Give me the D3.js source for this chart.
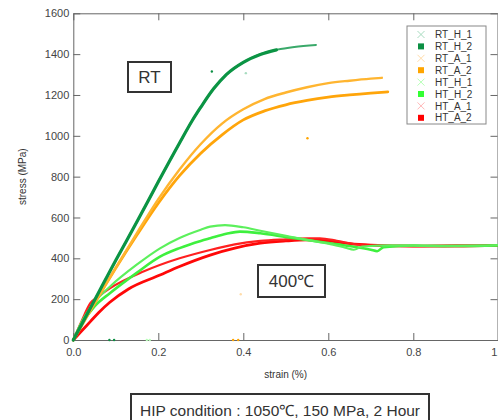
<!DOCTYPE html>
<html>
<head>
<meta charset="utf-8">
<script src="https://cdn.jsdelivr.net/npm/d3@7"></script>
<style>
  body { margin: 0; background: #fff; }
  text { font-family: "Liberation Sans", Arial, sans-serif; }
</style>
</head>
<body>
<svg id="chart" width="498" height="420"></svg>
<script>
// series names in legend order
var seriesNames = ["RT_H_1", "RT_H_2", "RT_A_1", "RT_A_2", "HT_H_1", "HT_H_2", "HT_A_1", "HT_A_2"];

// strain (%) / stress (MPa)
var strainRT_H_1 = [0, 0.05, 0.1, 0.15, 0.2, 0.25, 0.28, 0.3, 0.33, 0.36, 0.4, 0.44, 0.48, 0.52, 0.571];
var stressRT_H_1 = [0, 195, 390, 580, 775, 965, 1075, 1140, 1230, 1300, 1360, 1400, 1422, 1435, 1445];
var strainRT_H_2 = [0, 0.05, 0.1, 0.15, 0.2, 0.25, 0.28, 0.3, 0.33, 0.36, 0.4, 0.44, 0.478];
var stressRT_H_2 = [0, 195, 390, 580, 775, 965, 1075, 1140, 1230, 1300, 1360, 1398, 1421];
var strainRT_A_1 = [0, 0.05, 0.1, 0.15, 0.2, 0.25, 0.3, 0.35, 0.4, 0.45, 0.5, 0.55, 0.6, 0.65, 0.7, 0.726];
var stressRT_A_1 = [0, 180, 355, 525, 690, 835, 960, 1060, 1130, 1180, 1212, 1238, 1258, 1270, 1280, 1284];
var strainRT_A_2 = [0, 0.05, 0.1, 0.15, 0.2, 0.25, 0.3, 0.35, 0.4, 0.45, 0.5, 0.55, 0.6, 0.65, 0.7, 0.74];
var stressRT_A_2 = [0, 180, 352, 515, 670, 805, 915, 1005, 1078, 1122, 1152, 1173, 1189, 1200, 1209, 1215];
var strainHT_H_1 = [0, 0.02, 0.05, 0.086, 0.15, 0.204, 0.25, 0.3, 0.322, 0.357, 0.4, 0.44, 0.5, 0.55, 0.6, 0.64, 0.66, 0.68, 0.75, 0.85, 0.95, 1.0];
var stressHT_H_1 = [0, 90, 185, 261, 370, 449, 500, 540, 555, 563, 552, 535, 510, 490, 472, 452, 442, 458, 463, 460, 462, 465];
var strainHT_H_2 = [0, 0.02, 0.05, 0.086, 0.15, 0.204, 0.25, 0.3, 0.322, 0.36, 0.392, 0.44, 0.5, 0.55, 0.6, 0.65, 0.7, 0.715, 0.73, 0.8, 0.9, 1.0];
var stressHT_H_2 = [0, 80, 165, 229, 330, 408, 450, 485, 498, 520, 531, 523, 505, 490, 475, 460, 442, 435, 455, 463, 460, 463];
var strainHT_A_1 = [0, 0.02, 0.04, 0.06, 0.086, 0.165, 0.25, 0.322, 0.38, 0.44, 0.5, 0.55, 0.58, 0.62, 0.66, 0.7, 0.8, 0.9, 1.0];
var stressHT_A_1 = [0, 95, 180, 215, 253, 335, 400, 441, 468, 485, 493, 498, 498, 486, 470, 462, 460, 458, 463];
var strainHT_A_2 = [0, 0.02, 0.04, 0.06, 0.086, 0.13, 0.204, 0.25, 0.322, 0.38, 0.44, 0.5, 0.55, 0.6, 0.65, 0.7, 0.8, 0.9, 1.0];
var stressHT_A_2 = [0, 45, 90, 135, 185, 250, 318, 360, 416, 450, 474, 485, 490, 485, 472, 465, 460, 462, 463];

// stray single points
var strayStrain = [0.326, 0.406, 0.551, 0.394, 0.085, 0.096, 0.173, 0.18, 0.376, 0.388];
var strayStress = [1315, 1307, 988, 224, 0, 0, 0, 0, 0, 0];
var straySeries = ["RT_H_2", "RT_H_1", "RT_A_2", "RT_A_1", "RT_H_2", "RT_H_2", "HT_H_1", "HT_H_1", "RT_A_2", "RT_A_2"];

var xTicks = [0, 0.2, 0.4, 0.6, 0.8, 1.0];
var yTicks = [0, 200, 400, 600, 800, 1000, 1200, 1400, 1600];

var strains = {RT_H_1: strainRT_H_1, RT_H_2: strainRT_H_2, RT_A_1: strainRT_A_1, RT_A_2: strainRT_A_2,
  HT_H_1: strainHT_H_1, HT_H_2: strainHT_H_2, HT_A_1: strainHT_A_1, HT_A_2: strainHT_A_2};
var stresses = {RT_H_1: stressRT_H_1, RT_H_2: stressRT_H_2, RT_A_1: stressRT_A_1, RT_A_2: stressRT_A_2,
  HT_H_1: stressHT_H_1, HT_H_2: stressHT_H_2, HT_A_1: stressHT_A_1, HT_A_2: stressHT_A_2};

// styles
var lineColor = {RT_H_1: "#3aa96a", RT_H_2: "#0b9444", RT_A_1: "#ffb530", RT_A_2: "#ffa50a",
  HT_H_1: "#5cf05c", HT_H_2: "#3ef03e", HT_A_1: "#ff2020", HT_A_2: "#ff0808"};
var lineWidth = {RT_H_1: 2, RT_H_2: 3.2, RT_A_1: 2.4, RT_A_2: 2.8, HT_H_1: 2.2, HT_H_2: 2.6, HT_A_1: 2.2, HT_A_2: 2.8};
var legendColor = {RT_H_1: "#a8dcc0", RT_H_2: "#0b8f43", RT_A_1: "#ffdcaa", RT_A_2: "#ffa500",
  HT_H_1: "#b8ffb8", HT_H_2: "#33ff33", HT_A_1: "#ffb8b8", HT_A_2: "#ff0000"};

var svg = d3.select("#chart");
var x = d3.scaleLinear().domain([0, 1]).range([73.3, 498.3]);
var y = d3.scaleLinear().domain([0, 1600]).range([340, 13.3]);

// frame + axes, ticks pointing inward
var axisColor = "#666";
function styleAxis(g) {
  g.select(".domain").attr("stroke", axisColor);
  g.selectAll(".tick line").attr("stroke", axisColor);
  g.selectAll(".tick text").attr("fill", "#444").style("font-size", "11px")
    .style("font-family", "'Liberation Sans', Arial, sans-serif");
}
svg.append("g").attr("transform", "translate(0,340)")
  .call(d3.axisBottom(x).tickValues(xTicks).tickFormat(d3.format(".1f")).tickSizeInner(-7).tickSizeOuter(0).tickPadding(8))
  .call(styleAxis);
svg.append("g").attr("transform", "translate(73.3,0)")
  .call(d3.axisLeft(y).tickValues(yTicks).tickFormat(d3.format("d")).tickSizeInner(-7).tickSizeOuter(0).tickPadding(4))
  .call(styleAxis);
svg.append("g").attr("transform", "translate(0,13.3)")
  .call(d3.axisTop(x).tickValues(xTicks).tickFormat("").tickSizeInner(-7).tickSizeOuter(0))
  .call(styleAxis);
svg.append("g").attr("transform", "translate(497.5,0)")
  .call(d3.axisRight(y).tickValues(yTicks).tickFormat("").tickSizeInner(-7).tickSizeOuter(0))
  .call(styleAxis);

// curves
var line = d3.line().x(function(d){ return x(d[0]); }).y(function(d){ return y(d[1]); }).curve(d3.curveMonotoneX);
var drawOrder = ["HT_A_2", "HT_A_1", "HT_H_2", "HT_H_1", "RT_A_2", "RT_A_1", "RT_H_1", "RT_H_2"];
drawOrder.forEach(function(name){
  var pts = strains[name].map(function(s, i){ return [s, stresses[name][i]]; });
  svg.append("path").datum(pts)
    .attr("d", line)
    .attr("fill", "none")
    .attr("stroke", lineColor[name])
    .attr("stroke-width", lineWidth[name])
    .attr("stroke-linecap", "round");
});

// stray points
strayStrain.forEach(function(s, i){
  svg.append("circle")
    .attr("cx", x(s)).attr("cy", y(strayStress[i]))
    .attr("r", 1.2)
    .attr("fill", legendColor[straySeries[i]]);
});

// axis titles
svg.append("text").attr("x", 285.7).attr("y", 378).attr("text-anchor", "middle")
  .style("font-size", "10px").attr("fill", "#333").text("strain (%)");
svg.append("text").attr("transform", "translate(26,176.7) rotate(-90)").attr("text-anchor", "middle")
  .style("font-size", "10px").attr("fill", "#333").text("stress (MPa)");

// legend
var lg = svg.append("g");
lg.append("rect").attr("x", 407).attr("y", 26).attr("width", 79).attr("height", 98)
  .attr("fill", "#fff").attr("stroke", "#888").attr("stroke-width", 1);
seriesNames.forEach(function(name, i){
  var cy = 34.5 + i * 11.9;
  if (name.slice(-1) === "1") {
    lg.append("path").attr("d", "M" + (421 - 3.5) + "," + (cy - 3.5) + "l7,7M" + (421 - 3.5) + "," + (cy + 3.5) + "l7,-7")
      .attr("stroke", legendColor[name]).attr("stroke-width", 1);
  } else {
    lg.append("rect").attr("x", 418).attr("y", cy - 3).attr("width", 6).attr("height", 6).attr("fill", legendColor[name]);
  }
  lg.append("text").attr("x", 435).attr("y", cy + 3.6).style("font-size", "10px").attr("fill", "#333").text(name);
});

// annotation boxes
function labelBox(x0, y0, w, h, label, size) {
  svg.append("rect").attr("x", x0).attr("y", y0).attr("width", w).attr("height", h)
    .attr("fill", "#fff").attr("stroke", "#333").attr("stroke-width", 2);
  svg.append("text").attr("x", x0 + w / 2).attr("y", y0 + h / 2).attr("dy", "0.36em")
    .attr("text-anchor", "middle").style("font-size", size + "px").attr("fill", "#333").text(label);
}
labelBox(128, 62, 43, 30, "RT", 17);
labelBox(258, 265, 67, 32, "400℃", 17);
labelBox(131, 394, 298, 32, "HIP condition : 1050℃, 150 MPa, 2 Hour", 15.5);
</script>
</body>
</html>
